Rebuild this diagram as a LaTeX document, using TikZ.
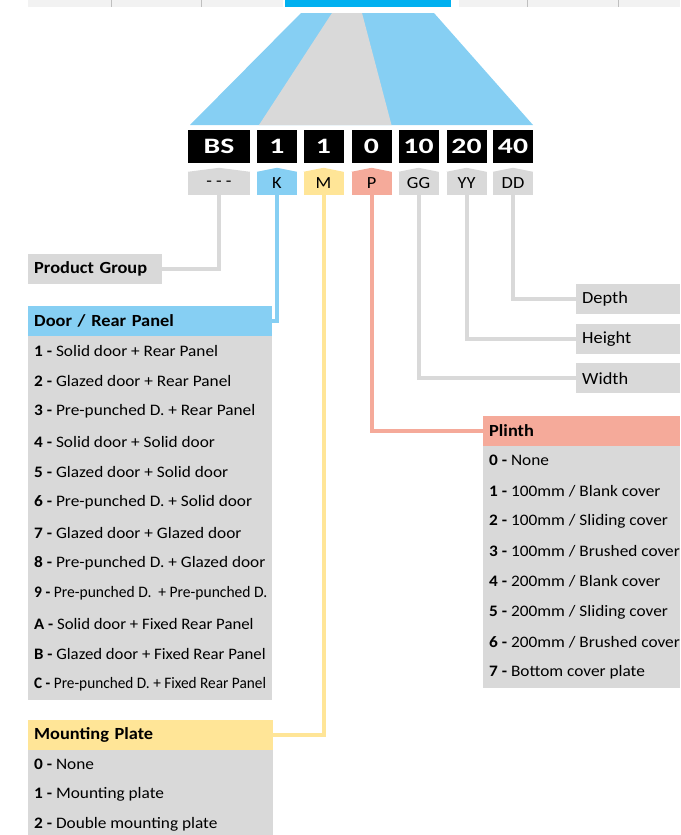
\documentclass[tikz,border=0pt]{standalone}
\usepackage{fontspec}
\setmainfont[FakeStretch=1.08]{Carlito}
\newfontfamily\codefont[FakeStretch=1.35]{Carlito}
\usetikzlibrary{positioning}
\definecolor{barblue}{HTML}{00B0F0}
\definecolor{lightblue}{HTML}{86CFF3}
\definecolor{boxgrey}{HTML}{D9D9D9}
\definecolor{bargrey}{HTML}{F2F2F2}
\definecolor{tickgrey}{HTML}{BFBFBF}
\definecolor{plateyellow}{HTML}{FFE597}
\definecolor{plinthred}{HTML}{F5AA9A}

\begin{document}
\begin{tikzpicture}[x=1pt,y=-1pt,
code/.style={fill=black,text=white,font=\codefont\fontsize{22}{22}\selectfont\bfseries,minimum height=33pt,inner sep=0pt},
tag/.style={fill=#1,font=\fontsize{17}{17}\selectfont,minimum height=23pt,inner sep=0pt},
head/.style={fill=#1,anchor=north west,font=\fontsize{17}{17}\selectfont\bfseries,minimum height=30pt,inner xsep=6pt,inner ysep=0pt,align=left},
label/.style={fill=boxgrey,anchor=north west,font=\fontsize{17}{17}\selectfont,minimum height=30pt,inner xsep=6pt,inner ysep=0pt,align=left},
item/.style={anchor=west,font=\fontsize{16}{16}\selectfont,inner xsep=6pt,inner ysep=0pt},
link/.style={draw=#1,line width=4pt}]
\useasboundingbox (0,0) rectangle (680,835);
% top bar
\fill[bargrey] (28,0) rectangle (283,7);
\fill[barblue] (285,0) rectangle (451,7);
\fill[bargrey] (459,0) rectangle (680,7);
\draw[tickgrey,line width=1pt] (111,0) -- (111,7) (201.5,0) -- (201.5,7) (527,0) -- (527,7) (618,0) -- (618,7);
% funnel
\fill[lightblue] (301,13) -- (434,13) -- (533,125) -- (190,125) -- cycle;
\fill[boxgrey] (332,13) -- (362,13) -- (391.5,125) -- (259,125) -- cycle;
% code
\node[code,minimum width=62pt] (cBS) at (219,146.5) {BS};
\node[code,minimum width=40pt] (cK) at (277,146.5) {1};
\node[code,minimum width=40pt] (cM) at (323.5,146.5) {1};
\node[code,minimum width=40pt] (cP) at (371.5,146.5) {0};
\node[code,minimum width=40pt] (cW) at (418.5,146.5) {10};
\node[code,minimum width=40pt] (cH) at (466.5,146.5) {20};
\node[code,minimum width=40pt] (cD) at (513,146.5) {40};
\node[tag=boxgrey,minimum width=62pt] (tPG) at (219,183.5) {- - -};
\node[tag=lightblue,minimum width=40pt] (tK) at (277,183.5) {K};
\node[tag=plateyellow,minimum width=40pt] (tM) at (323.5,183.5) {M};
\node[tag=plinthred,minimum width=40pt] (tP) at (371.5,183.5) {P};
\node[tag=boxgrey,minimum width=40pt] (tW) at (418.5,183.5) {GG};
\node[tag=boxgrey,minimum width=40pt] (tH) at (466.5,183.5) {YY};
\node[tag=boxgrey,minimum width=40pt] (tD) at (513,183.5) {DD};
\foreach \t/\c in {tPG/boxgrey,tK/lightblue,tM/plateyellow,tP/plinthred,tW/boxgrey,tH/boxgrey,tD/boxgrey}
  \fill[\c] (\t.north west) -- ([yshift=4pt]\t.north) -- (\t.north east) -- cycle;
% headers
\node[head=boxgrey,text width=122pt] (pg) at (28,253.5) {Product Group};
\node[head=lightblue,text width=232pt] (door) at (28,306) {Door / Rear Panel};
\node[head=plateyellow,text width=233pt] (mount) at (28,719.5) {Mounting Plate};
\node[head=plinthred,text width=185pt] (plinth) at (483,415.5) {Plinth};
\node[label,text width=92pt] (depth) at (576,284) {Depth};
\node[label,text width=92pt] (height) at (576,324) {Height};
\node[label,text width=92pt] (width) at (576,363) {Width};
% lists
\fill[boxgrey] (28,336) rectangle (272,700);
\fill[boxgrey] (483,445.5) rectangle (680,688);
\fill[boxgrey] (28,749.5) rectangle (273,835);
\node[item] (door1) at (28,351) {\textbf{1 -} Solid door + Rear Panel};
\node[item] (door2) at (28,381.3) {\textbf{2 -} Glazed door + Rear Panel};
\node[item] (door3) at (28,411.6) {\textbf{3 -} Pre-punched D. + Rear Panel};
\node[item] (door4) at (28,442) {\textbf{4 -} Solid door + Solid door};
\node[item] (door5) at (28,472.3) {\textbf{5 -} Glazed door + Solid door};
\node[item] (door6) at (28,502.6) {\textbf{6 -} Pre-punched D. + Solid door};
\node[item] (door7) at (28,533) {\textbf{7 -} Glazed door + Glazed door};
\node[item] (door8) at (28,563.3) {\textbf{8 -} Pre-punched D. + Glazed door};
\node[item] (door9) at (28,593.6) {\scalebox{0.9}[1]{\textbf{9 -} Pre-punched D.\ \ + Pre-punched D.}};
\node[item] (doorA) at (28,624) {\scalebox{0.97}[1]{\textbf{A -} Solid door + Fixed Rear Panel}};
\node[item] (doorB) at (28,654.3) {\scalebox{0.97}[1]{\textbf{B -} Glazed door + Fixed Rear Panel}};
\node[item] (doorC) at (28,684.6) {\scalebox{0.885}[1]{\textbf{C -} Pre-punched D. + Fixed Rear Panel}};
\node[item] (plinth0) at (483,460.5) {\textbf{0 -} None};
\node[item] (plinth1) at (483,490.8) {\textbf{1 -} 100mm / Blank cover};
\node[item] (plinth2) at (483,521.1) {\textbf{2 -} 100mm / Sliding cover};
\node[item] (plinth3) at (483,551.4) {\textbf{3 -} 100mm / Brushed cover};
\node[item] (plinth4) at (483,581.7) {\textbf{4 -} 200mm / Blank cover};
\node[item] (plinth5) at (483,612) {\textbf{5 -} 200mm / Sliding cover};
\node[item] (plinth6) at (483,642.3) {\textbf{6 -} 200mm / Brushed cover};
\node[item] (plinth7) at (483,672.6) {\textbf{7 -} Bottom cover plate};
\node[item] (mount0) at (28,764) {\textbf{0 -} None};
\node[item] (mount1) at (28,794) {\textbf{1 -} Mounting plate};
\node[item] (mount2) at (28,824.5) {\textbf{2 -} Double mounting plate};
% links
\draw[link=boxgrey] (tPG.south) |- (pg.east);
\draw[link=lightblue] (tK.south) |- (door.east);
\draw[link=plateyellow] (tM.south) |- (mount.east);
\draw[link=plinthred] (tP.south) |- (plinth.west);
\draw[link=boxgrey] (tW.south) |- (width.west);
\draw[link=boxgrey] (tH.south) |- (height.west);
\draw[link=boxgrey] (tD.south) |- (depth.west);
\end{tikzpicture}
\end{document}
